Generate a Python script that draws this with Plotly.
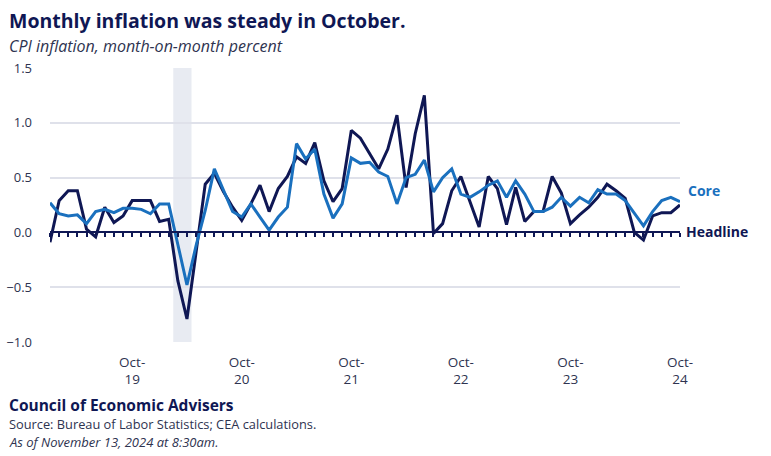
import plotly.graph_objects as go
import pandas as pd

# ---- data (month-on-month percent, Jan 2019 .. Oct 2024) ----
months = [d.strftime("%Y-%m") for d in pd.date_range("2019-01-01", "2024-10-01", freq="MS")]

headline = [-0.09, 0.29, 0.38, 0.38, 0.03, -0.04, 0.23, 0.09, 0.15, 0.29, 0.29, 0.29, 0.10, 0.12,
            -0.44, -0.79, -0.18,
            0.44, 0.54, 0.37, 0.23, 0.11, 0.26, 0.43, 0.19, 0.40, 0.51,
            0.69, 0.63, 0.82, 0.47, 0.28, 0.40, 0.93, 0.86, 0.72, 0.58, 0.76, 1.07,
            0.41, 0.90, 1.25, -0.01, 0.08, 0.38, 0.51, 0.28, 0.05, 0.51, 0.40, 0.07, 0.41, 0.10,
            0.19, 0.19, 0.51, 0.36, 0.08, 0.16,
            0.23, 0.32, 0.44, 0.38, 0.31, 0.00, -0.07, 0.15, 0.18, 0.18, 0.25]

core = [0.27, 0.17, 0.15, 0.16, 0.08, 0.19, 0.21, 0.18, 0.22, 0.22, 0.21, 0.17, 0.26, 0.26,
        -0.11, -0.48, -0.12,
        0.20, 0.58, 0.38, 0.19, 0.14, 0.26, 0.14, 0.02, 0.14, 0.23,
        0.81, 0.67, 0.76, 0.35, 0.13, 0.26, 0.68, 0.63, 0.64, 0.55, 0.51, 0.26,
        0.50, 0.53, 0.66, 0.37, 0.50, 0.58, 0.35, 0.32, 0.37, 0.43, 0.47, 0.32, 0.47, 0.35,
        0.19, 0.19, 0.23, 0.32, 0.24, 0.32,
        0.27, 0.39, 0.35, 0.35, 0.29, 0.18, 0.06, 0.19, 0.29, 0.32, 0.28]

tick_months = ["2019-10", "2020-10", "2021-10", "2022-10", "2023-10", "2024-10"]
tick_labels = ["Oct-<br>19", "Oct-<br>20", "Oct-<br>21", "Oct-<br>22", "Oct-<br>23", "Oct-<br>24"]
y_ticks = [-1.0, -0.5, 0.0, 0.5, 1.0, 1.5]

recession = ("2020-03", "2020-04")

# ---- styling ----
NAVY = "#0f1754"
BLUE = "#1a70be"
GRID = "#dfe1ea"
TEXT = "#2e3350"

W, H = 771, 456
L, R, T, B = 50, 91, 68, 114
PW, PH = W - L - R, H - T - B


def px(xp):
    return (xp - L) / PW


def py(yp):
    return (H - B - yp) / PH


fig = go.Figure()

# headline on the bottom (label) axis, core on the zero-line axis (drawn on top)
fig.add_trace(go.Scatter(x=months, y=headline, mode="lines", name="Headline",
                         line=dict(color=NAVY, width=3), showlegend=False))
fig.add_trace(go.Scatter(x=months, y=core, mode="lines", name="Core", xaxis="x2",
                         line=dict(color=BLUE, width=3), showlegend=False))

i0 = months.index(recession[0])
i1 = months.index(recession[1])
fig.add_shape(type="rect", xref="x", yref="paper", x0=i0 - 0.5, x1=i1 + 0.5, y0=0, y1=1,
              fillcolor="#e8ebf2", line_width=0, layer="below")

fig.update_layout(
    width=W, height=H,
    margin=dict(l=L, r=R, t=T, b=B, autoexpand=False),
    paper_bgcolor="white", plot_bgcolor="white",
    font=dict(family="Open Sans", color=TEXT),
    xaxis=dict(type="category", categoryarray=months, range=[0, len(months) - 1],
               showgrid=False, zeroline=False, automargin=False,
               showline=False, ticks="", tickmode="array", tickvals=tick_months,
               ticktext=tick_labels, tickfont=dict(size=13.5, color=TEXT),
               ticklabelstandoff=10),
    xaxis2=dict(type="category", categoryarray=months, overlaying="x", anchor="free",
                position=(0 - y_ticks[0]) / (y_ticks[-1] - y_ticks[0]),
                range=[0, len(months) - 1], showgrid=False, zeroline=False, automargin=False,
                showline=True, linecolor=NAVY, linewidth=2,
                ticks="outside", ticklen=4, tickwidth=1.5, tickcolor=NAVY,
                tickmode="linear", tick0=0, dtick=1, showticklabels=False, side="bottom"),
    yaxis=dict(range=[y_ticks[0], y_ticks[-1]], tickvals=y_ticks, automargin=False,
               tickformat=".1f", showgrid=True, gridcolor=GRID, gridwidth=1.5,
               zeroline=False, showline=False, ticks="",
               tickfont=dict(size=13, color=TEXT), ticklabelstandoff=17),
)

ann = [
    dict(text="<b>Monthly inflation was steady in October.</b>", x=px(7), y=py(20),
         font=dict(size=19.5, color=NAVY)),
    dict(text="<i>CPI inflation, month-on-month percent</i>", x=px(7), y=py(46),
         font=dict(size=16, color=TEXT)),
    dict(text="<b>Council of Economic Advisers</b>", x=px(7), y=py(405),
         font=dict(size=15.5, color=NAVY)),
    dict(text="Source: Bureau of Labor Statistics; CEA calculations.", x=px(7), y=py(424),
         font=dict(size=12.8, color=TEXT)),
    dict(text="<i>As of November 13, 2024 at 8:30am.</i>", x=px(7), y=py(442),
         font=dict(size=13, color=TEXT)),
    dict(text="<b>Core</b>", x=px(686), y=py(190), font=dict(size=14, color=BLUE)),
    dict(text="<b>Headline</b>", x=px(684), y=py(232), font=dict(size=14, color=NAVY)),
]
for a in ann:
    fig.add_annotation(xref="paper", yref="paper", xanchor="left", yanchor="middle",
                       showarrow=False, **a)

fig.write_html("out.html")
